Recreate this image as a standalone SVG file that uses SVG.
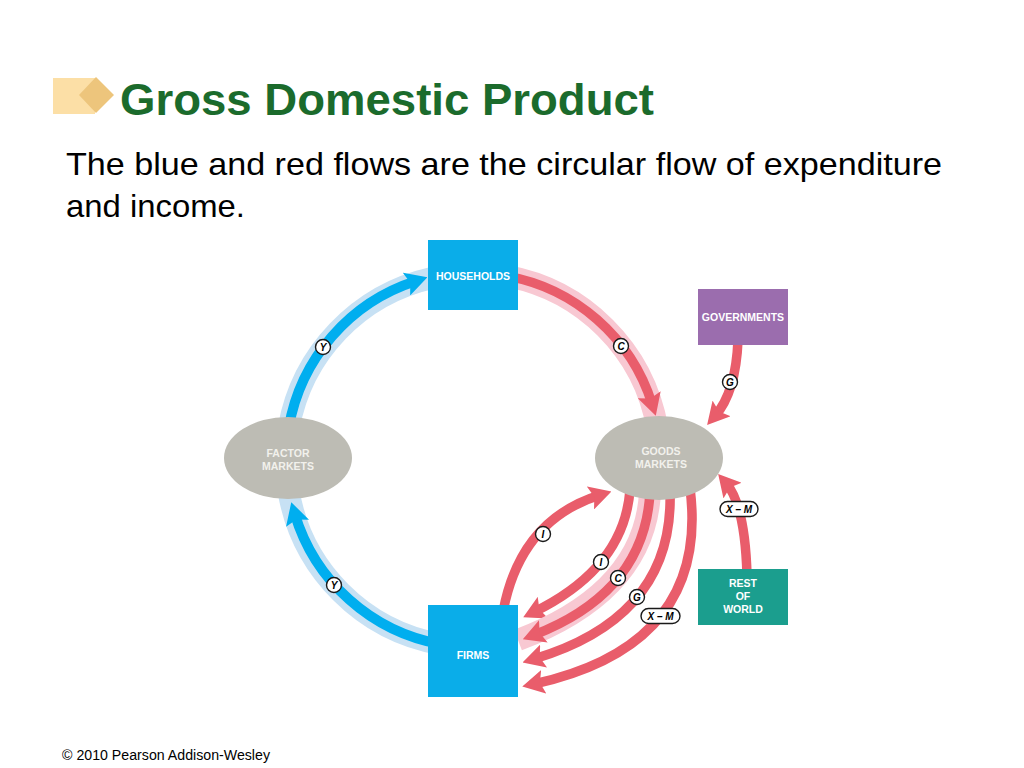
<svg xmlns="http://www.w3.org/2000/svg" width="1024" height="768" viewBox="0 0 1024 768">
<defs>
<style>
.title{font-family:"Liberation Sans",Arial,sans-serif;font-weight:bold;fill:#1B6B2C}
.body{font-family:"Liberation Sans",Arial,sans-serif;fill:#000}
.nl{font-family:"Liberation Sans",Arial,sans-serif;font-weight:bold;font-size:10.5px;fill:#fff;text-anchor:middle}
.gl{fill:#F2F1EC}
.red{fill:none;stroke:#E95D6B;stroke-width:9.5}
.blue{fill:none;stroke:#00AEEF;stroke-width:10}
.bhalo{fill:none;stroke:#C7E1F4;stroke-width:22}
.phalo{fill:none;stroke:#F8C8D2;stroke-width:22}
.lc{fill:#fff;stroke:#1a1a1a;stroke-width:1.4}
.lt{font-family:"Liberation Sans",Arial,sans-serif;font-weight:bold;font-style:italic;font-size:10px;fill:#000;text-anchor:middle}
</style>
<marker id="ar" markerUnits="userSpaceOnUse" markerWidth="22" markerHeight="24" viewBox="0 0 22 24" refX="10" refY="12" orient="auto">
<path d="M0,0 L22,12 L0,24 L4,12 Z" fill="#E95D6B"/>
</marker>
<marker id="ab" markerUnits="userSpaceOnUse" markerWidth="22" markerHeight="24" viewBox="0 0 22 24" refX="10" refY="12" orient="auto">
<path d="M0,0 L22,12 L0,24 L4,12 Z" fill="#00AEEF"/>
</marker>
</defs>
<rect width="1024" height="768" fill="#fff"/>
<g id="title-icon">
<rect x="53" y="78" width="42" height="36" fill="#FCDFA6"/>
<polygon points="96,77 114,95 96,113 79,95" fill="#EDC57C"/>
</g>
<text class="title" x="120" y="115" font-size="45" textLength="534" lengthAdjust="spacingAndGlyphs">Gross Domestic Product</text>
<text class="body" x="66" y="175" font-size="32" textLength="876" lengthAdjust="spacingAndGlyphs">The blue and red flows are the circular flow of expenditure</text>
<text class="body" x="66" y="217" font-size="32" textLength="179" lengthAdjust="spacingAndGlyphs">and income.</text>
<text class="body" x="62" y="760" font-size="14" textLength="208" lengthAdjust="spacingAndGlyphs">© 2010 Pearson Addison-Wesley</text>

<g id="connectors">
<path class="bhalo" d="M288.8,427.5 A187 187 0 0 1 432,278"/>
<path class="blue" d="M288.8,427.5 A187 187 0 0 1 416,281" marker-end="url(#ab)"/>
<path class="bhalo" d="M440.5,644.2 A187 187 0 0 1 288.8,492.5"/>
<path class="blue" d="M440.5,644.2 A187 187 0 0 1 294.7,513.7" marker-end="url(#ab)"/>
<path class="phalo" d="M505.5,275.8 A187 187 0 0 1 657.2,427.5"/>
<path class="red" d="M505.5,275.8 A187 187 0 0 1 652.2,404.3" marker-end="url(#ar)"/>
<path class="red" d="M738,340 Q736,392 715,416" marker-end="url(#ar)"/>
<path class="red" d="M747,575 Q745,505 726,483" marker-end="url(#ar)"/>
<path class="red" d="M503,612 Q520,520 600,495" marker-end="url(#ar)"/>
<path class="red" d="M630,490 Q624,568 534,612" marker-end="url(#ar)"/>
<path class="phalo" d="M650,492 Q645,592 518,640"/>
<path class="red" d="M650,492 Q645,592 534,635" marker-end="url(#ar)"/>
<path class="red" d="M670,492 Q674,617 534,659" marker-end="url(#ar)"/>
<path class="red" d="M690,488 Q710,645 534,684" marker-end="url(#ar)"/>
</g>

<g id="households">
<rect x="428" y="240" width="90" height="70" fill="#0AADE9"/>
<text class="nl" x="473" y="280">HOUSEHOLDS</text>
</g>
<g id="governments">
<rect x="698" y="289" width="90" height="56" fill="#9B6DAE"/>
<text class="nl" x="743" y="321">GOVERNMENTS</text>
</g>
<g id="factor-markets">
<ellipse cx="288" cy="458" rx="64" ry="41" fill="#BDBCB4"/>
<text class="nl gl" x="288" y="457">FACTOR</text>
<text class="nl gl" x="288" y="470">MARKETS</text>
</g>
<g id="goods-markets">
<ellipse cx="659" cy="458" rx="64" ry="42" fill="#BDBCB4"/>
<text class="nl gl" x="661" y="455">GOODS</text>
<text class="nl gl" x="661" y="468">MARKETS</text>
</g>
<g id="firms">
<rect x="428" y="605" width="90" height="92" fill="#0AADE9"/>
<text class="nl" x="473" y="659">FIRMS</text>
</g>
<g id="rest-of-world">
<rect x="698" y="569" width="90" height="56" fill="#1B9E8E"/>
<text class="nl" x="743" y="587">REST</text>
<text class="nl" x="743" y="600">OF</text>
<text class="nl" x="743" y="613">WORLD</text>
</g>

<g id="flow-labels">
<circle class="lc" cx="323" cy="347" r="7.5"/><text class="lt" x="323" y="350.7">Y</text>
<circle class="lc" cx="334" cy="585" r="7.5"/><text class="lt" x="334" y="588.7">Y</text>
<circle class="lc" cx="621" cy="346" r="7.5"/><text class="lt" x="621" y="349.7">C</text>
<circle class="lc" cx="730" cy="382" r="7.5"/><text class="lt" x="730" y="385.7">G</text>
<rect class="lc" x="720" y="501.5" width="38" height="15" rx="7.5"/><text class="lt" x="739" y="512.7">X – M</text>
<circle class="lc" cx="543" cy="534" r="7.5"/><text class="lt" x="543" y="537.7">I</text>
<circle class="lc" cx="601" cy="562" r="7.5"/><text class="lt" x="601" y="565.7">I</text>
<circle class="lc" cx="618" cy="578" r="7.5"/><text class="lt" x="618" y="581.7">C</text>
<circle class="lc" cx="637" cy="597" r="7.5"/><text class="lt" x="637" y="600.7">G</text>
<rect class="lc" x="641" y="608.5" width="39" height="15" rx="7.5"/><text class="lt" x="660.5" y="619.7">X – M</text>
</g>
</svg>
